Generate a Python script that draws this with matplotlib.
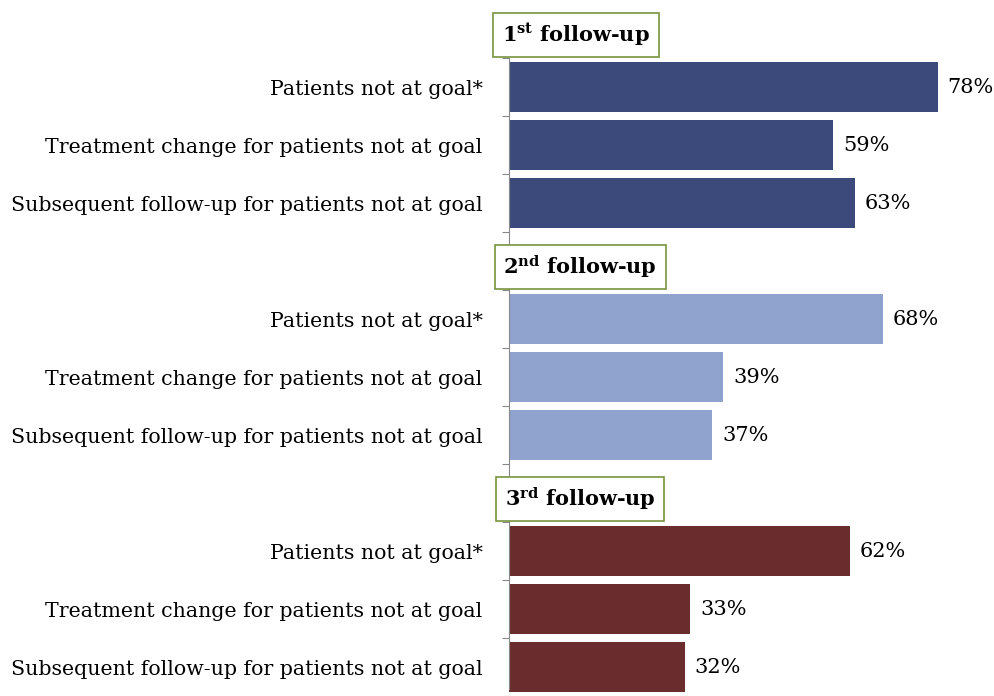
import matplotlib.pyplot as plt
import numpy as np

plt.rcParams['font.family'] = ['DejaVu Serif']
plt.rcParams['mathtext.fontset'] = 'dejavuserif'

headers = [r'1$^{\mathbf{st}}$ follow-up', r'2$^{\mathbf{nd}}$ follow-up', r'3$^{\mathbf{rd}}$ follow-up']
categories = ['Patients not at goal*',
              'Treatment change for patients not at goal',
              'Subsequent follow-up for patients not at goal']
values = [[78, 59, 63],
          [68, 39, 37],
          [62, 33, 32]]
colors = ['#3b4a7a', '#8fa3ce', '#6a2c2d']

fig = plt.figure(figsize=(9.95, 6.96), dpi=100)
ax = fig.add_axes([509 / 995, 0, 1 - 509 / 995, 1])

slots = []
labels = []
for g in range(3):
    head = g * 4
    ys = np.arange(head + 1, head + 4)
    ax.barh(ys, values[g], height=0.86, color=colors[g], zorder=2)
    for y, v in zip(ys, values[g]):
        ax.annotate(f'{v}%', xy=(v, y), xytext=(7, 0), textcoords='offset points',
                    ha='left', va='center', fontsize=15)
    slots.extend(ys)
    labels.extend(categories)
    ax.annotate(headers[g], xy=(0, head + 0.1), xycoords=('axes fraction', 'data'),
                xytext=(-5 + g, 0), textcoords='offset points', ha='left', va='center',
                fontsize=15, fontweight='bold', zorder=5,
                bbox=dict(boxstyle='square,pad=0.42', fc='white', ec='#77933c', lw=1.2))

ax.set_xlim(0, 88.4)
ax.set_ylim(11.375, -0.502)
ax.set_xticks([])
ax.set_yticks(np.arange(0.5, 12, 1))
ax.set_yticklabels([])
ax.set_yticks(slots, minor=True)
ax.set_yticklabels(labels, minor=True, fontsize=14.8)
ax.tick_params(axis='y', which='major', length=5, color='#888888')
ax.tick_params(axis='y', which='minor', length=0, pad=19)
for s in ['top', 'right', 'bottom']:
    ax.spines[s].set_visible(False)
ax.spines['left'].set_color('#888888')
ax.spines['left'].set_bounds(0.5, 11.375)

fig.savefig('out.png', dpi=100)
